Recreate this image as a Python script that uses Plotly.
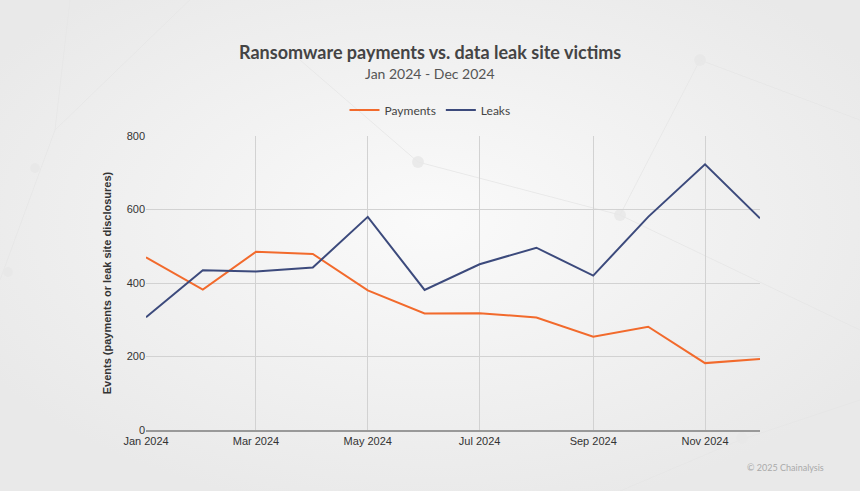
import base64
import plotly.graph_objects as go

months = ["2024-01-01", "2024-02-01", "2024-03-01", "2024-04-01", "2024-05-01", "2024-06-01",
          "2024-07-01", "2024-08-01", "2024-09-01", "2024-10-01", "2024-11-01", "2024-12-01"]
payments = [470, 382, 485, 479, 380, 317, 318, 306, 254, 281, 182, 193]
leaks = [307, 435, 431, 442, 580, 381, 451, 496, 420, 580, 723, 576]

title_text = "Ransomware payments vs. data leak site victims"
subtitle_text = "Jan 2024 - Dec 2024"
y_title = "Events (payments or leak site disclosures)"
credit = "© 2025 Chainalysis"

W, H = 860, 491
ML, MR, MT, MB = 146, 100, 136, 61
pw, ph = W - ML - MR, H - MT - MB


def px_x(x):
    return (x - ML) / pw


def px_y(y):
    return (H - MB - y) / ph


fig = go.Figure()
fig.add_trace(go.Scatter(x=months, y=payments, mode="lines", name="Payments",
                         line=dict(color="#f26a2c", width=2)))
fig.add_trace(go.Scatter(x=months, y=leaks, mode="lines", name="Leaks",
                         line=dict(color="#3c4a7c", width=2)))

svg = (
    '<svg xmlns="http://www.w3.org/2000/svg" width="860" height="491" viewBox="0 0 860 491" '
    'preserveAspectRatio="none">'
    '<defs><radialGradient id="g" cx="0.5" cy="0.45" r="0.6">'
    '<stop offset="0" stop-color="#fafafa"/><stop offset="1" stop-color="#e9e9e9"/>'
    '</radialGradient></defs>'
    '<rect width="860" height="491" fill="url(#g)"/>'
    '<g stroke="#e6e6e6" stroke-width="1" fill="none" opacity="0.8">'
    '<path d="M70 0 L55 130 L0 280"/><path d="M55 130 L200 -10"/>'
    '<path d="M700 60 L860 120"/><path d="M700 60 L620 215 L860 330"/>'
    '<path d="M418 162 L620 215"/><path d="M418 162 L300 60"/>'
    '<path d="M740 440 L860 400"/><path d="M740 440 L620 491"/>'
    '</g>'
    '<g fill="#e8e8e8" opacity="0.8"><circle cx="418" cy="162" r="6"/><circle cx="620" cy="215" r="6"/>'
    '<circle cx="700" cy="60" r="6"/><circle cx="35" cy="168" r="5"/>'
    '<circle cx="742" cy="438" r="6"/><circle cx="8" cy="272" r="5"/></g>'
    '</svg>'
)
bg_src = "data:image/svg+xml;base64," + base64.b64encode(svg.encode()).decode()

fig.update_layout(
    width=W, height=H,
    margin=dict(l=ML, r=MR, t=MT, b=MB),
    paper_bgcolor="#efefef",
    plot_bgcolor="rgba(0,0,0,0)",
    font=dict(family="Liberation Sans, Arial, sans-serif", color="#444", size=11),
    showlegend=True,
    legend=dict(orientation="h", x=px_x(430), xref="paper", xanchor="center",
                y=px_y(110), yanchor="middle",
                font=dict(family="Lato, sans-serif", size=12, color="#444"),
                bgcolor="rgba(0,0,0,0)", itemwidth=30),
    images=[dict(source=bg_src, xref="paper", yref="paper", x=px_x(0), y=px_y(0),
                 sizex=W / pw, sizey=H / ph, sizing="stretch", layer="below",
                 xanchor="left", yanchor="top")],
    annotations=[
        dict(text="<b>" + title_text + "</b>", x=px_x(430), y=px_y(52),
             font=dict(family="Lato, sans-serif", size=18, color="#444")),
        dict(text=subtitle_text, x=px_x(430), y=px_y(73),
             font=dict(family="Lato, sans-serif", size=14, color="#555")),
        dict(text=credit, x=px_x(785), y=px_y(467),
             font=dict(family="Lato, sans-serif", size=9, color="#aaa")),
    ],
)
fig.update_annotations(xref="paper", yref="paper", showarrow=False,
                       xanchor="center", yanchor="middle")

fig.update_xaxes(
    type="date", range=["2024-01-01", "2024-12-01"],
    dtick="M2", tick0="2024-01-01", tickformat="%b %Y",
    showgrid=True, gridcolor="#d2d2d2", gridwidth=1,
    showline=True, linecolor="#999", linewidth=2,
    ticks="", tickfont=dict(size=11, color="#333"),
    zeroline=False,
)
fig.update_yaxes(
    range=[0, 800], dtick=200,
    showgrid=True, gridcolor="#d2d2d2", gridwidth=1,
    showline=False, zeroline=False, ticks="",
    tickfont=dict(size=11, color="#333"),
    title=dict(text="<b>" + y_title + "</b>", font=dict(size=11, color="#333"), standoff=12),
)

fig.write_html("out.html", config={"displayModeBar": False},
               post_script="document.body.style.margin='0';")
